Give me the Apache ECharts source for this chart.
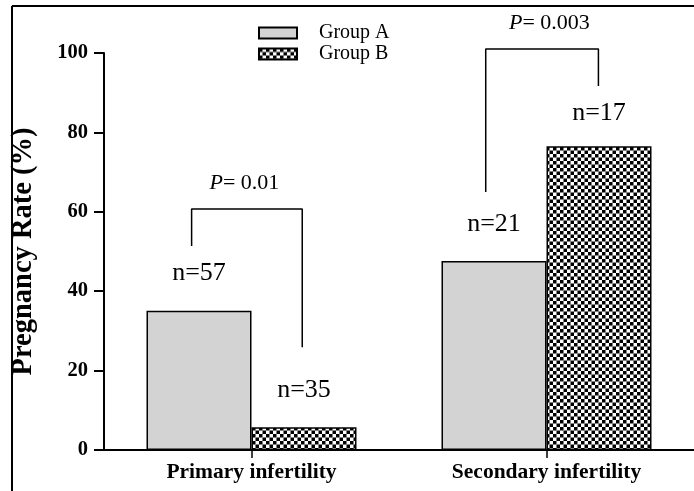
<!DOCTYPE html>
<html>
<head>
<meta charset="utf-8">
<script src="https://cdn.jsdelivr.net/npm/echarts@6/dist/echarts.min.js"></script>
<style>html,body{margin:0;padding:0;background:#fff}#c{width:694px;height:491px}</style>
</head>
<body>
<div id="c"></div>
<script>
// ---- data ----
const categories = ['Primary infertility', 'Secondary infertility'];
const seriesNames = ['Group A', 'Group B'];
const groupA = [35.1, 47.6];
const groupB = [5.7, 76.5];
const nA = [57, 21];
const nB = [35, 17];
const pValues = ['0.01', '0.003'];
// bracket paths in (band position 0..2, percent) coordinates
const bracketPrimary = [[0.297, 51.4], [0.297, 60.7], [0.672, 60.7], [0.672, 25.9]];
const bracketSecondary = [[1.294, 65], [1.294, 101], [1.676, 101], [1.676, 91.7]];
const pLabelPos = [[0.476, 67.3], [1.51, 107.6]];

const serif = '"Liberation Serif", "Times New Roman", serif';

// checker pattern
const pc = document.createElement('canvas');
pc.width = 14; pc.height = 14;
const g = pc.getContext('2d');
g.fillStyle = '#fff'; g.fillRect(0, 0, 14, 14);
g.fillStyle = '#000';
for (let r = 0; r < 4; r++) for (let c = 0; c < 4; c++) {
  if ((r + c) % 2 === 0) g.fillRect(c * 3.5, r * 3.5, 3.5, 3.5);
}

const chart = echarts.init(document.getElementById('c'), null, {renderer: 'canvas'});
chart.setOption({
  animation: false,
  backgroundColor: '#fff',
  legend: {
    data: seriesNames,
    orient: 'vertical',
    left: 253, top: 18,
    itemWidth: 38, itemHeight: 11, itemGap: 1,
    icon: 'rect',
    textStyle: {fontFamily: serif, fontSize: 20, color: '#000', padding: [0, 0, 0, 17], lineHeight: 20}
  },
  grid: {left: 104, top: 53, width: 592, height: 397, containLabel: false},
  xAxis: [{
    type: 'category',
    data: categories,
    axisLine: {lineStyle: {color: '#000', width: 2}},
    axisTick: {show: true, alignWithLabel: true, length: 8, lineStyle: {color: '#000', width: 1.5}},
    axisLabel: {fontFamily: serif, fontWeight: 'bold', fontSize: 21.5, color: '#000', margin: 11}
  }, {
    type: 'value', min: 0, max: 2, show: false
  }],
  yAxis: {
    type: 'value', min: 0, max: 100, interval: 20,
    name: 'Pregnancy Rate (%)',
    nameLocation: 'middle', nameGap: 66,
    nameTextStyle: {fontFamily: serif, fontWeight: 'bold', fontSize: 28.5, color: '#000'},
    axisLine: {show: true, lineStyle: {color: '#000', width: 2}},
    axisTick: {show: true, inside: false, length: 10, lineStyle: {color: '#000', width: 2}},
    axisLabel: {fontFamily: serif, fontWeight: 'bold', fontSize: 20.5, color: '#000', margin: 16},
    splitLine: {show: false}
  },
  series: [{
    name: 'Group A', type: 'bar', data: groupA,
    barWidth: 105, barGap: '0%',
    itemStyle: {color: '#d3d3d3', borderColor: '#000', borderWidth: 1.5},
    label: {show: true, position: 'top', distance: 24, fontFamily: serif, fontSize: 26, color: '#000',
      formatter: p => 'n=' + nA[p.dataIndex]}
  }, {
    name: 'Group B', type: 'bar', data: groupB.map((v, i) => i === 1 ? {value: v, label: {distance: 20}} : v),
    barWidth: 105, barGap: '0%',
    itemStyle: {color: {image: pc, repeat: 'repeat'}, borderColor: '#000', borderWidth: 1.5},
    label: {show: true, position: 'top', distance: 24, fontFamily: serif, fontSize: 26, color: '#000',
      formatter: p => 'n=' + nB[p.dataIndex]}
  }, {
    type: 'line', xAxisIndex: 1, data: bracketPrimary, symbol: 'none', clip: false, silent: true,
    lineStyle: {color: '#000', width: 1.5}
  }, {
    type: 'line', xAxisIndex: 1, data: bracketSecondary, symbol: 'none', clip: false, silent: true,
    lineStyle: {color: '#000', width: 1.5}
  }, {
    type: 'scatter', xAxisIndex: 1, data: pLabelPos, symbolSize: 1, clip: false, silent: true,
    itemStyle: {color: 'rgba(0,0,0,0)', opacity: 1},
    label: {show: true, position: 'inside', color: '#000', opacity: 1, textBorderWidth: 0, fontFamily: serif, fontSize: 22,
      formatter: p => '{i|P}= ' + pValues[p.dataIndex],
      rich: {i: {fontStyle: 'italic', fontFamily: serif, fontSize: 22, color: '#000', textBorderWidth: 0}}}
  }],
  graphic: [
    {type: 'line', shape: {x1: 12, y1: 6, x2: 694, y2: 6}, style: {stroke: '#000', lineWidth: 2}, silent: true},
    {type: 'line', shape: {x1: 12, y1: 6, x2: 12, y2: 491}, style: {stroke: '#000', lineWidth: 2}, silent: true}
  ]
});
</script>
</body>
</html>
